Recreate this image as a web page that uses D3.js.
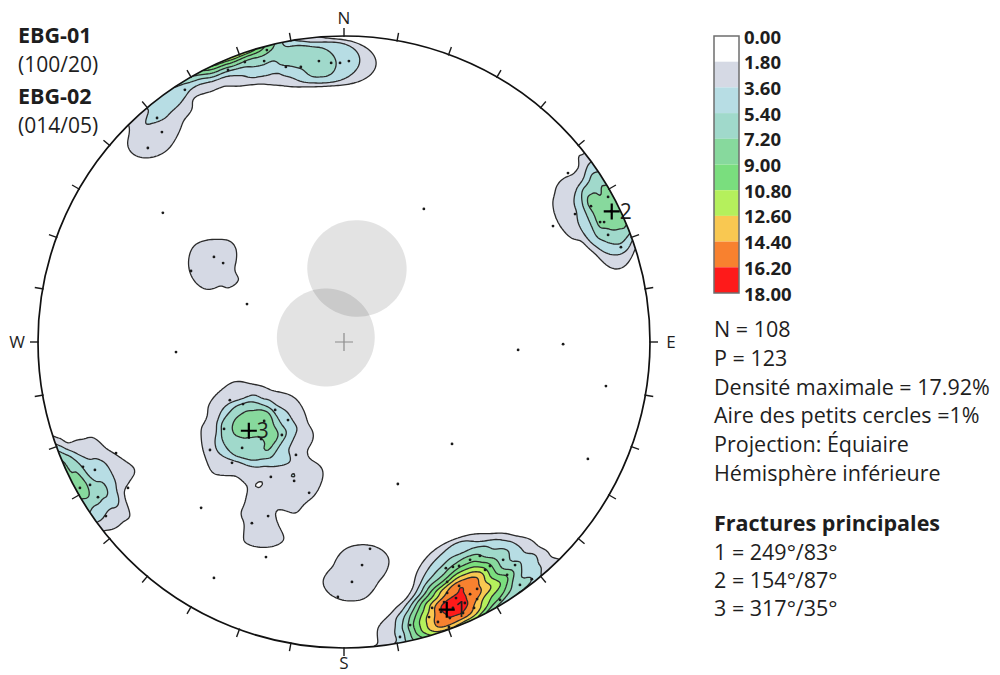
<!DOCTYPE html>
<html>
<head>
<meta charset="utf-8">
<script src="https://cdn.jsdelivr.net/npm/d3@7"></script>
<style>
  body { margin: 0; background: #fff; }
  svg { display: block; }
  text { font-family: "Open Sans", "Noto Sans", sans-serif; fill: #1e1e1e; }
</style>
</head>
<body>
<svg id="chart" width="1000" height="675"></svg>
<script>
// ---------------------------------------------------------------------------
// Data
// ---------------------------------------------------------------------------

// Contour classes of pole density (% of poles per 1% area)
const densityLevels = [0, 1.8, 3.6, 5.4, 7.2, 9.0, 10.8, 12.6, 14.4, 16.2, 18.0];
const bandColors = ["#ffffff", "#d5d9e4", "#b7dde4", "#a0d9cb", "#87d99d",
                    "#7ade7e", "#b5f05c", "#f9c851", "#f8812f", "#fe1a1a"];

// Statistics of the data set
const nPoles = 108;
const nPlanes = 123;
const maxDensity = 17.92;
const countingArea = 1;          // counting circle, % of hemisphere area

// Boreholes (strike / dip of the reference plane) and blind-cone half angle
const boreholeNames = ["EBG-01", "EBG-02"];
const boreholeStrike = [100, 14];
const boreholeDip = [20, 5];
const boreholeCone = 13;

// Principal fracture sets (strike / dip)
const fractureIds = [1, 2, 3];
const fractureStrike = [249, 154, 317];
const fractureDip = [83, 87, 35];

// Poles to fractures, equal-area net coordinates (east, north), with count
const poles = [
  // set 1 (SSE), core
  [0.343, -0.931, 1], [0.425, -0.869, 1], [0.389, -0.886, 1], [0.346, -0.902, 1],
  [0.307, -0.915, 1], [0.395, -0.853, 1], [0.356, -0.869, 1], [0.317, -0.882, 1],
  [0.278, -0.899, 1], [0.412, -0.824, 1], [0.366, -0.837, 1], [0.327, -0.850, 1],
  [0.288, -0.869, 1], [0.376, -0.797, 1], [0.337, -0.820, 1], [0.435, -0.840, 1],
  [0.435, -0.807, 1], [0.337, -0.784, 1], [0.337, -0.876, 1],
  // set 1, halo
  [0.376, -0.732, 1], [0.356, -0.735, 1], [0.477, -0.732, 1], [0.533, -0.761, 1],
  [0.614, -0.775, 1], [0.183, -0.964, 1], [0.510, -0.843, 1], [0.461, -0.745, 1],
  [0.412, -0.712, 1], [0.444, -0.699, 1], [0.520, -0.712, 1], [0.333, -0.739, 1],
  [0.575, -0.794, 1], [0.216, -0.925, 1], [0.559, -0.729, 1],
  // NNW rim
  [-0.324, 0.915, 1], [-0.379, 0.889, 1], [-0.261, 0.918, 1],
  [-0.252, 0.954, 1], [-0.190, 0.899, 1], [-0.141, 0.899, 1], [-0.082, 0.918, 2],
  [-0.042, 0.912, 1], [-0.013, 0.912, 1], [0.016, 0.918, 1], [-0.520, 0.824, 1],
  [-0.611, 0.732, 1], [-0.595, 0.686, 1], [-0.641, 0.634, 1],
  // set 2 (ENE)
  [0.873, 0.428, 2], [0.863, 0.474, 1], [0.807, 0.444, 1], [0.850, 0.392, 1],
  [0.837, 0.392, 1], [0.863, 0.350, 1], [0.905, 0.310, 1], [0.732, 0.552, 1],
  [0.755, 0.418, 1],
  // WSW rim
  [-0.853, -0.408, 1], [-0.863, -0.477, 1], [-0.745, -0.363, 1], [-0.706, -0.477, 1],
  [-0.778, -0.569, 1], [-0.814, -0.418, 1], [-0.804, -0.507, 1], [-0.830, -0.467, 1],
  // set 3 (SW)
  [-0.310, -0.291, 3], [-0.330, -0.203, 1], [-0.392, -0.284, 1],
  [-0.203, -0.304, 1], [-0.261, -0.258, 1], [-0.438, -0.353, 1], [-0.333, -0.346, 1],
  [-0.366, -0.395, 1], [-0.271, -0.317, 1], [-0.373, -0.190, 1], [-0.225, -0.222, 1],
  [-0.183, -0.255, 1], [-0.157, -0.369, 1],
  [-0.239, -0.441, 1], [-0.163, -0.454, 1], [-0.114, -0.493, 1], [-0.248, -0.569, 1],
  [-0.301, -0.592, 1],
  // scattered groups
  [-0.425, 0.278, 1], [-0.395, 0.258, 1], [-0.500, 0.232, 1],
  [0.085, -0.676, 1], [0.059, -0.729, 1], [0.026, -0.784, 1], [-0.020, -0.833, 1],
  // isolated poles
  [0.261, 0.435, 1], [-0.549, -0.033, 1], [0.569, -0.026, 1], [0.716, -0.007, 1],
  [0.856, -0.144, 1], [0.176, -0.464, 1], [0.683, 0.379, 1], [-0.467, -0.542, 1],
  [-0.255, -0.703, 1], [-0.425, -0.771, 1], [-0.317, 0.124, 1], [-0.592, 0.422, 1],
  [0.353, -0.333, 1], [0.797, -0.382, 1]
];

// ---------------------------------------------------------------------------
// Layout
// ---------------------------------------------------------------------------
const cx = 344, cy = 342, R = 306;
const svg = d3.select("#chart");

const xNet = d3.scaleLinear().domain([-1, 1]).range([cx - R, cx + R]);
const yNet = d3.scaleLinear().domain([-1, 1]).range([cy + R, cy - R]);

const rad = Math.PI / 180;

// Lambert equal-area, lower hemisphere: net coords -> unit vector (E, N, Down)
function netToVec(u, v) {
  let r = Math.hypot(u, v);
  if (r > 1) { u /= r; v /= r; r = 1; }
  const th = 2 * Math.asin(r / Math.SQRT2);
  const az = Math.atan2(u, v);
  return [Math.sin(th) * Math.sin(az), Math.sin(th) * Math.cos(az), Math.cos(th)];
}
// unit vector -> net coords (folded to the lower hemisphere)
function vecToNet(p) {
  let [e, n, d] = p;
  if (d < 0) { e = -e; n = -n; d = -d; }
  const th = Math.acos(Math.min(1, d));
  const r = Math.SQRT2 * Math.sin(th / 2);
  const az = Math.atan2(e, n);
  return [r * Math.sin(az), r * Math.cos(az)];
}
// pole of a plane given by strike / dip (trend = strike - 90, angle from vertical = dip)
function planePole(strike, dip) {
  const tr = (strike - 90) * rad, th = dip * rad;
  return [Math.sin(th) * Math.sin(tr), Math.sin(th) * Math.cos(tr), Math.cos(th)];
}

// ---------------------------------------------------------------------------
// Density grid (smoothed counting circle on the sphere, axial data)
// ---------------------------------------------------------------------------
const poleVecs = [];
poles.forEach(([u, v, n]) => { const p = netToVec(u, v); for (let k = 0; k < n; k++) poleVecs.push(p); });

const thetaC = Math.acos(1 - countingArea / 100);
const soft = 0.012;
const cosCut = Math.cos(thetaC + 8 * soft);

const step = 2, pad = 8;
const gx0 = cx - R - pad, gy0 = cy - R - pad;
const nx = Math.ceil((2 * R + 2 * pad) / step) + 1, ny = nx;
const values = new Array(nx * ny);
for (let j = 0; j < ny; j++) {
  for (let i = 0; i < nx; i++) {
    const q = netToVec(xNet.invert(gx0 + i * step), yNet.invert(gy0 + j * step));
    let s = 0;
    for (const p of poleVecs) {
      const c = Math.abs(q[0] * p[0] + q[1] * p[1] + q[2] * p[2]);
      if (c < cosCut) continue;
      const a = Math.acos(Math.min(1, c));
      s += 1 / (1 + Math.exp((a - thetaC) / soft));
    }
    values[j * nx + i] = 100 * s / nPoles;
  }
}

const contours = d3.contours().size([nx, ny])
  .thresholds(densityLevels.slice(1, -1))(values);
const gridPath = d3.geoPath(d3.geoIdentity().scale(step).translate([gx0 - step / 2, gy0 - step / 2]));

svg.append("defs").append("clipPath").attr("id", "net-clip")
  .append("circle").attr("cx", cx).attr("cy", cy).attr("r", R);

const gNet = svg.append("g").attr("clip-path", "url(#net-clip)");
gNet.selectAll("path.band").data(contours).join("path")
  .attr("class", "band")
  .attr("d", gridPath)
  .attr("fill", d => bandColors[densityLevels.indexOf(d.value)])
  .attr("stroke", "#2b2b2b")
  .attr("stroke-width", 1.3)
  .attr("stroke-linejoin", "round");

// ---------------------------------------------------------------------------
// Borehole blind cones
// ---------------------------------------------------------------------------
function smallCircle(axis, halfAngle) {
  const a = axis;
  let b = Math.abs(a[2]) < 0.9 ? [0, 0, 1] : [1, 0, 0];
  const dot = b[0] * a[0] + b[1] * a[1] + b[2] * a[2];
  b = [b[0] - dot * a[0], b[1] - dot * a[1], b[2] - dot * a[2]];
  const nb = Math.hypot(...b); b = b.map(x => x / nb);
  const c = [a[1] * b[2] - a[2] * b[1], a[2] * b[0] - a[0] * b[2], a[0] * b[1] - a[1] * b[0]];
  const ca = Math.cos(halfAngle * rad), sa = Math.sin(halfAngle * rad);
  return d3.range(0, 360, 4).map(phi => {
    const cp = Math.cos(phi * rad), sp = Math.sin(phi * rad);
    return vecToNet([0, 1, 2].map(k => ca * a[k] + sa * (cp * b[k] + sp * c[k])));
  });
}
const coneLine = d3.line().x(d => xNet(d[0])).y(d => yNet(d[1])).curve(d3.curveLinearClosed);
svg.append("g").selectAll("path").data(boreholeNames).join("path")
  .attr("d", (d, i) => coneLine(smallCircle(planePole(boreholeStrike[i], boreholeDip[i]), boreholeCone)))
  .attr("fill", "#000")
  .attr("fill-opacity", 0.11);

// centre cross
svg.append("path")
  .attr("d", `M${xNet(0) - 9},${yNet(0)}H${xNet(0) + 9}M${xNet(0)},${yNet(0) - 9}V${yNet(0) + 9}`)
  .attr("stroke", "#8c8c8c").attr("stroke-width", 1.2);

// ---------------------------------------------------------------------------
// Poles
// ---------------------------------------------------------------------------
svg.append("g").selectAll("circle").data(poles).join("circle")
  .attr("cx", d => xNet(d[0]))
  .attr("cy", d => yNet(d[1]))
  .attr("r", 1.4)
  .attr("fill", "#1a1a1a");

// ---------------------------------------------------------------------------
// Principal fractures
// ---------------------------------------------------------------------------
const gFrac = svg.append("g").selectAll("g").data(fractureIds).join("g")
  .attr("transform", (d, i) => {
    const [u, v] = vecToNet(planePole(fractureStrike[i], fractureDip[i]));
    return `translate(${xNet(u)},${yNet(v)})`;
  });
gFrac.append("path").attr("d", "M-8,0H8M0,-8V8")
  .attr("stroke", "#000").attr("stroke-width", 2.2);
gFrac.append("text").attr("x", 8).attr("y", 7.5)
  .attr("font-size", 21).text(d => d);

// ---------------------------------------------------------------------------
// Primitive circle, ticks and cardinal points
// ---------------------------------------------------------------------------
svg.append("circle").attr("cx", cx).attr("cy", cy).attr("r", R)
  .attr("fill", "none").attr("stroke", "#111").attr("stroke-width", 1.7);

svg.append("g").selectAll("line").data(d3.range(0, 360, 10)).join("line")
  .attr("x1", a => cx + (R - 1) * Math.sin(a * rad))
  .attr("y1", a => cy - (R - 1) * Math.cos(a * rad))
  .attr("x2", a => cx + (R + 8) * Math.sin(a * rad))
  .attr("y2", a => cy - (R + 8) * Math.cos(a * rad))
  .attr("stroke", "#1a1a1a").attr("stroke-width", 1.4);

const cardinals = ["N", "E", "S", "W"];
const cardinalGap = [18, 21, 15, 21];
svg.append("g").selectAll("text").data(cardinals).join("text")
  .attr("x", (d, i) => cx + (R + cardinalGap[i]) * Math.sin(i * 90 * rad))
  .attr("y", (d, i) => cy - (R + cardinalGap[i]) * Math.cos(i * 90 * rad))
  .attr("dy", "0.35em")
  .attr("text-anchor", "middle")
  .attr("font-size", 17)
  .attr("fill", "#222")
  .text(d => d);

// ---------------------------------------------------------------------------
// Borehole labels (top left)
// ---------------------------------------------------------------------------
const fmt3 = d3.format("03d"), fmt2 = d3.format("02d");
const gBh = svg.append("g").selectAll("g").data(boreholeNames).join("g")
  .attr("transform", (d, i) => `translate(18,${43 + i * 61})`);
gBh.append("text").attr("font-size", 21.5).attr("font-weight", 700).text(d => d);
gBh.append("text").attr("y", 29).attr("font-size", 21).attr("fill", "#333")
  .text((d, i) => `(${fmt3(boreholeStrike[i])}/${fmt2(boreholeDip[i])})`);

// ---------------------------------------------------------------------------
// Colour legend
// ---------------------------------------------------------------------------
const yLeg = d3.scaleLinear().domain([0, 18]).range([36, 293]);
const gLeg = svg.append("g");
gLeg.selectAll("rect").data(bandColors).join("rect")
  .attr("x", 714)
  .attr("y", (d, i) => yLeg(densityLevels[i]))
  .attr("width", 25)
  .attr("height", (d, i) => yLeg(densityLevels[i + 1]) - yLeg(densityLevels[i]))
  .attr("fill", d => d);
gLeg.append("rect").attr("x", 714).attr("y", yLeg(0)).attr("width", 25)
  .attr("height", yLeg(18) - yLeg(0))
  .attr("fill", "none").attr("stroke", "#6e6e6e").attr("stroke-width", 1.5);
gLeg.selectAll("text").data(densityLevels).join("text")
  .attr("x", 744)
  .attr("y", d => yLeg(d) + 7.5)
  .attr("font-size", 18.5)
  .attr("font-weight", 700)
  .text(d => d3.format(".2f")(d));

// ---------------------------------------------------------------------------
// Statistics and principal fractures text
// ---------------------------------------------------------------------------
const statLines = [
  `N = ${nPoles}`,
  `P = ${nPlanes}`,
  `Densité maximale = ${maxDensity}%`,
  `Aire des petits cercles =${countingArea}%`,
  "Projection: Équiaire",
  "Hémisphère inférieure"
];
const gTxt = svg.append("g").attr("transform", "translate(714,0)");
gTxt.selectAll("text.stat").data(statLines).join("text")
  .attr("class", "stat")
  .attr("y", (d, i) => 337 + i * 28.8)
  .attr("font-size", 21.5)
  .text(d => d);
gTxt.append("text").attr("y", 531).attr("font-size", 21.5).attr("font-weight", 700)
  .text("Fractures principales");
gTxt.selectAll("text.frac").data(fractureIds).join("text")
  .attr("class", "frac")
  .attr("y", (d, i) => 560 + i * 28)
  .attr("font-size", 21.5)
  .text((d, i) => `${d} = ${fractureStrike[i]}°/${fractureDip[i]}°`);
</script>
</body>
</html>
